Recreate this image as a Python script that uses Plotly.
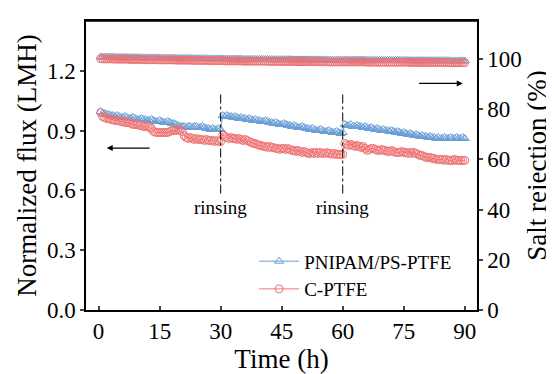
import numpy as np
import plotly.graph_objects as go

# Time grid (h): sampled every 0.5 h
time_h = np.arange(0.5, 90.01, 0.5)

flux_pnipam = [
    0.995, 0.985, 0.985, 0.98, 0.98, 0.975, 0.975, 0.97, 0.975, 0.97,
    0.965, 0.965, 0.97, 0.965, 0.96, 0.96, 0.965, 0.96, 0.955, 0.955,
    0.96, 0.955, 0.955, 0.95, 0.95, 0.955, 0.95, 0.945, 0.945, 0.95,
    0.945, 0.94, 0.94, 0.945, 0.94, 0.935, 0.935, 0.93, 0.925, 0.92,
    0.92, 0.92, 0.915, 0.92, 0.92, 0.915, 0.92, 0.92, 0.915, 0.915,
    0.92, 0.915, 0.91, 0.91, 0.905, 0.91, 0.905, 0.905, 0.91, 0.905,
    0.975, 0.97, 0.975, 0.97, 0.97, 0.965, 0.97, 0.965, 0.96, 0.965,
    0.96, 0.96, 0.955, 0.96, 0.955, 0.95, 0.955, 0.95, 0.95, 0.945,
    0.945, 0.95, 0.945, 0.94, 0.94, 0.935, 0.94, 0.935, 0.93, 0.93,
    0.935, 0.93, 0.925, 0.925, 0.92, 0.925, 0.92, 0.915, 0.915, 0.92,
    0.915, 0.91, 0.91, 0.905, 0.91, 0.905, 0.9, 0.9, 0.905, 0.9,
    0.895, 0.895, 0.9, 0.895, 0.89, 0.89, 0.895, 0.89, 0.885, 0.89,
    0.93, 0.925, 0.925, 0.93, 0.92, 0.92, 0.925, 0.92, 0.92, 0.915,
    0.92, 0.915, 0.91, 0.915, 0.91, 0.905, 0.91, 0.905, 0.9, 0.905,
    0.9, 0.9, 0.895, 0.9, 0.895, 0.89, 0.895, 0.89, 0.885, 0.89,
    0.885, 0.88, 0.885, 0.88, 0.875, 0.88, 0.875, 0.87, 0.875, 0.87,
    0.87, 0.865, 0.87, 0.865, 0.865, 0.86, 0.865, 0.86, 0.86, 0.865,
    0.86, 0.86, 0.865, 0.86, 0.86, 0.865, 0.86, 0.86, 0.865, 0.86,
]

flux_cptfe = [
    0.99, 0.97, 0.965, 0.96, 0.96, 0.955, 0.955, 0.95, 0.95, 0.95,
    0.945, 0.945, 0.94, 0.94, 0.94, 0.935, 0.93, 0.93, 0.93, 0.925,
    0.925, 0.92, 0.92, 0.92, 0.915, 0.91, 0.895, 0.89, 0.89, 0.89,
    0.89, 0.89, 0.89, 0.89, 0.895, 0.9, 0.9, 0.9, 0.905, 0.9,
    0.895, 0.875, 0.865, 0.86, 0.865, 0.86, 0.855, 0.86, 0.855, 0.855,
    0.855, 0.85, 0.855, 0.85, 0.85, 0.85, 0.845, 0.85, 0.845, 0.845,
    0.88, 0.87, 0.865, 0.86, 0.865, 0.86, 0.86, 0.855, 0.86, 0.855,
    0.85, 0.855, 0.85, 0.845, 0.84, 0.835, 0.835, 0.83, 0.825, 0.825,
    0.82, 0.82, 0.815, 0.82, 0.815, 0.815, 0.81, 0.81, 0.805, 0.81,
    0.81, 0.805, 0.81, 0.805, 0.8, 0.8, 0.795, 0.8, 0.795, 0.79,
    0.795, 0.79, 0.785, 0.785, 0.79, 0.785, 0.79, 0.785, 0.79, 0.785,
    0.785, 0.79, 0.785, 0.785, 0.78, 0.785, 0.78, 0.78, 0.78, 0.78,
    0.835, 0.83, 0.825, 0.83, 0.825, 0.82, 0.825, 0.82, 0.815, 0.82,
    0.81, 0.8, 0.805, 0.81, 0.81, 0.805, 0.8, 0.8, 0.805, 0.8,
    0.8, 0.795, 0.795, 0.8, 0.795, 0.79, 0.79, 0.79, 0.795, 0.79,
    0.79, 0.785, 0.79, 0.785, 0.79, 0.785, 0.78, 0.775, 0.775, 0.77,
    0.765, 0.765, 0.765, 0.76, 0.76, 0.755, 0.755, 0.755, 0.755, 0.75,
    0.755, 0.75, 0.75, 0.75, 0.755, 0.75, 0.75, 0.75, 0.75, 0.75,
]

rej_pnipam = [
    100.8, 100.7, 100.7, 100.7, 100.7, 100.7, 100.7, 100.6, 100.6, 100.6,
    100.6, 100.6, 100.6, 100.6, 100.5, 100.5, 100.5, 100.5, 100.5, 100.5,
    100.5, 100.4, 100.4, 100.4, 100.4, 100.4, 100.4, 100.4, 100.4, 100.3,
    100.3, 100.3, 100.3, 100.3, 100.3, 100.3, 100.3, 100.2, 100.2, 100.2,
    100.2, 100.2, 100.2, 100.2, 100.2, 100.1, 100.1, 100.1, 100.1, 100.1,
    100.1, 100.1, 100.1, 100.0, 100.0, 100.0, 100.0, 100.0, 100.0, 100.0,
    100.0, 99.9, 99.9, 99.9, 99.9, 99.9, 99.9, 99.9, 99.9, 99.9,
    99.8, 99.8, 99.8, 99.8, 99.8, 99.8, 99.8, 99.8, 99.8, 99.8,
    99.8, 99.8, 99.8, 99.7, 99.7, 99.7, 99.7, 99.7, 99.7, 99.7,
    99.7, 99.7, 99.7, 99.7, 99.7, 99.6, 99.6, 99.6, 99.6, 99.6,
    99.6, 99.6, 99.6, 99.6, 99.6, 99.6, 99.6, 99.6, 99.6, 99.6,
    99.6, 99.6, 99.5, 99.5, 99.5, 99.5, 99.5, 99.5, 99.5, 99.5,
    99.5, 99.5, 99.5, 99.5, 99.5, 99.5, 99.5, 99.5, 99.5, 99.5,
    99.5, 99.4, 99.4, 99.4, 99.4, 99.4, 99.4, 99.4, 99.4, 99.4,
    99.4, 99.4, 99.4, 99.4, 99.4, 99.4, 99.4, 99.4, 99.4, 99.4,
    99.4, 99.4, 99.3, 99.3, 99.3, 99.3, 99.3, 99.3, 99.3, 99.3,
    99.3, 99.3, 99.3, 99.3, 99.3, 99.3, 99.3, 99.3, 99.3, 99.3,
    99.3, 99.3, 99.2, 99.2, 99.2, 99.2, 99.2, 99.2, 99.2, 99.2,
]

rej_cptfe = [
    100.1, 100.0, 100.0, 100.0, 100.0, 100.0, 100.0, 99.9, 99.9, 99.9,
    99.9, 99.9, 99.9, 99.9, 99.8, 99.8, 99.8, 99.8, 99.8, 99.8,
    99.8, 99.7, 99.7, 99.7, 99.7, 99.7, 99.7, 99.7, 99.7, 99.6,
    99.6, 99.6, 99.6, 99.6, 99.6, 99.6, 99.6, 99.5, 99.5, 99.5,
    99.5, 99.5, 99.5, 99.5, 99.5, 99.4, 99.4, 99.4, 99.4, 99.4,
    99.4, 99.4, 99.4, 99.3, 99.3, 99.3, 99.3, 99.3, 99.3, 99.3,
    99.3, 99.2, 99.2, 99.2, 99.2, 99.2, 99.2, 99.2, 99.2, 99.2,
    99.1, 99.1, 99.1, 99.1, 99.1, 99.1, 99.1, 99.1, 99.1, 99.1,
    99.1, 99.1, 99.1, 99.0, 99.0, 99.0, 99.0, 99.0, 99.0, 99.0,
    99.0, 99.0, 99.0, 99.0, 99.0, 98.9, 98.9, 98.9, 98.9, 98.9,
    98.9, 98.9, 98.9, 98.9, 98.9, 98.9, 98.9, 98.9, 98.9, 98.9,
    98.9, 98.9, 98.8, 98.8, 98.8, 98.8, 98.8, 98.8, 98.8, 98.8,
    98.8, 98.8, 98.8, 98.8, 98.8, 98.8, 98.8, 98.8, 98.8, 98.8,
    98.8, 98.7, 98.7, 98.7, 98.7, 98.7, 98.7, 98.7, 98.7, 98.7,
    98.7, 98.7, 98.7, 98.7, 98.7, 98.7, 98.7, 98.7, 98.7, 98.7,
    98.7, 98.7, 98.6, 98.6, 98.6, 98.6, 98.6, 98.6, 98.6, 98.6,
    98.6, 98.6, 98.6, 98.6, 98.6, 98.6, 98.6, 98.6, 98.6, 98.6,
    98.6, 98.6, 98.5, 98.5, 98.5, 98.5, 98.5, 98.5, 98.5, 98.5,
]

x_ticks = [0, 15, 30, 45, 60, 75, 90]
y_ticks = [0.0, 0.3, 0.6, 0.9, 1.2]
y_tick_text = ["0.0", "0.3", "0.6", "0.9", "1.2"]
y2_ticks = [0, 20, 40, 60, 80, 100]
rinse_times = [30, 60]

BLUE = "#6b9fd6"
RED = "#ef7272"
FONT = "Liberation Serif"

fig = go.Figure()

# Rejection (right axis)
fig.add_trace(go.Scatter(
    x=time_h, y=rej_pnipam, yaxis="y2", mode="lines+markers",
    line=dict(color=BLUE, width=1),
    marker=dict(symbol="triangle-up-open", size=8, color=BLUE, line=dict(width=1)),
    showlegend=False))
fig.add_trace(go.Scatter(
    x=time_h, y=rej_cptfe, yaxis="y2", mode="lines+markers",
    line=dict(color=RED, width=1),
    marker=dict(symbol="circle-open", size=8, color=RED, line=dict(width=1)),
    showlegend=False))

# Flux (left axis)
fig.add_trace(go.Scatter(
    x=time_h, y=flux_pnipam, mode="lines+markers", name="PNIPAM/PS-PTFE",
    line=dict(color=BLUE, width=1),
    marker=dict(symbol="triangle-up-open", size=8, color=BLUE, line=dict(width=1))))
fig.add_trace(go.Scatter(
    x=time_h, y=flux_cptfe, mode="lines+markers", name="C-PTFE",
    line=dict(color=RED, width=1),
    marker=dict(symbol="circle-open", size=8, color=RED, line=dict(width=1))))

shapes = [dict(type="line", xref="paper", yref="paper", x0=0, x1=1, y0=1, y1=1,
               line=dict(color="black", width=1.5))]
annotations = []
for t in rinse_times:
    shapes.append(dict(type="line", xref="x", yref="y", x0=t, x1=t, y0=0.584, y1=1.09,
                       line=dict(color="black", width=1, dash="dashdot")))
    annotations.append(dict(x=t, y=0.516, xref="x", yref="y", text="rinsing",
                            showarrow=False, font=dict(family=FONT, size=19, color="black")))

# direction arrows
annotations.append(dict(x=2.0, y=0.812, ax=12.9, ay=0.812, xref="x", yref="y",
                        axref="x", ayref="y", text="", showarrow=True,
                        arrowhead=2, arrowsize=1, arrowwidth=1.2, arrowcolor="black"))
annotations.append(dict(x=89.5, y=1.136, ax=78.4, ay=1.136, xref="x", yref="y",
                        axref="x", ayref="y", text="", showarrow=True,
                        arrowhead=2, arrowsize=1, arrowwidth=1.2, arrowcolor="black"))

# The page body adds an 8 px margin; sizes/margins account for that offset.
fig.update_layout(
    width=546, height=366,
    margin=dict(l=78, r=77, t=13, b=64),
    paper_bgcolor="white", plot_bgcolor="white",
    font=dict(family=FONT, size=23, color="black"),
    xaxis=dict(range=[-3.1, 93.0], tickvals=x_ticks, ticks="inside", ticklen=4,
               tickwidth=1.5, showline=True, linewidth=1.5, linecolor="black",
               mirror=True, showgrid=False, zeroline=False, automargin=False,
               title=dict(text="Time (h)", font=dict(size=27), standoff=9)),
    yaxis=dict(range=[0, 1.449], tickvals=y_ticks, ticktext=y_tick_text, ticks="outside",
               ticklen=4, tickwidth=1.5, showline=True, linewidth=1.5, linecolor="black",
               showgrid=False, zeroline=False, automargin=False,
               title=dict(text="Normalized flux (LMH)", font=dict(size=27), standoff=2)),
    yaxis2=dict(range=[0, 115.1], overlaying="y", side="right", tickvals=y2_ticks,
                ticks="outside", ticklen=4, tickwidth=1.5, showline=True, linewidth=1.5,
                linecolor="black", showgrid=False, zeroline=False, automargin=False,
                title=dict(text="Salt rejection (%)", font=dict(size=27), standoff=6)),
    legend=dict(x=0.43, y=0.12, xanchor="left", yanchor="middle",
                bgcolor="rgba(0,0,0,0)", font=dict(size=19), tracegroupgap=0,
                itemwidth=40),
    shapes=shapes, annotations=annotations,
)

fig.write_html("out.html")
